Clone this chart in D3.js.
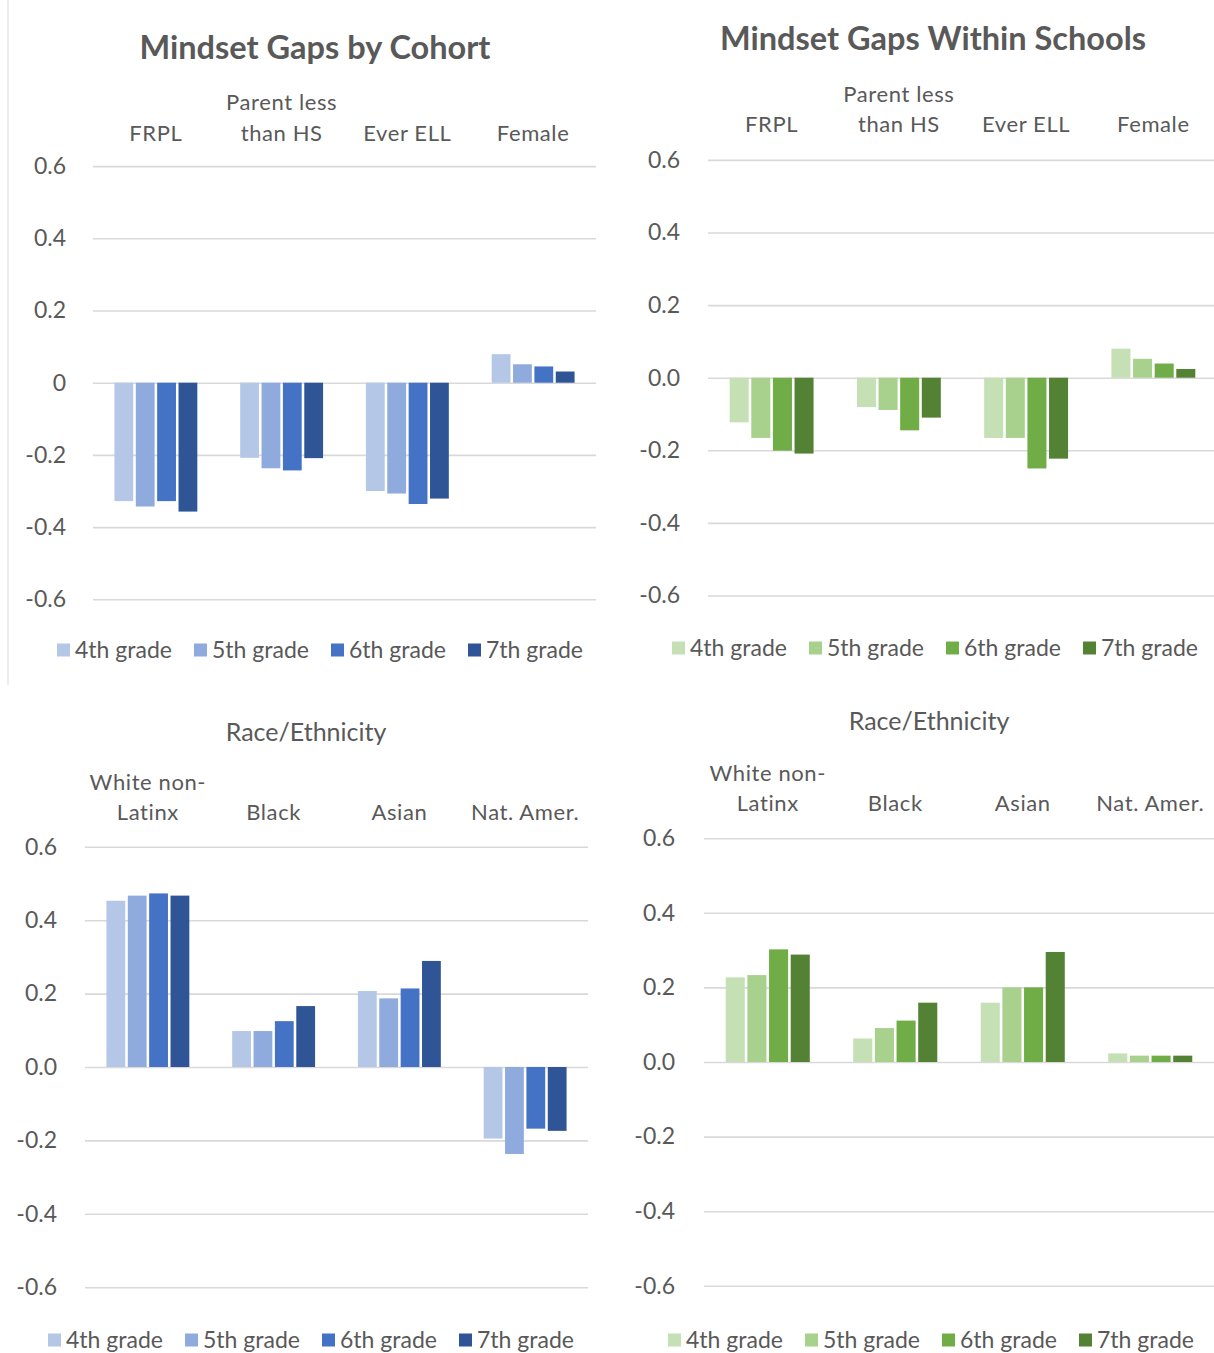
<!DOCTYPE html>
<html>
<head>
<meta charset="utf-8">
<script src="https://cdn.jsdelivr.net/npm/d3@7"></script>
<style>
  body { margin: 0; background: #fff; }
  svg text { font-family: Lato, "Open Sans", sans-serif; fill: #595959; }
</style>
</head>
<body>
<script>
'use strict';

// series / categories
var grades = ['4th grade', '5th grade', '6th grade', '7th grade'];
var groupCats = [['FRPL'], ['Parent less', 'than HS'], ['Ever ELL'], ['Female']];
var raceCats = [['White non-', 'Latinx'], ['Black'], ['Asian'], ['Nat. Amer.']];
var yTicks = [0.6, 0.4, 0.2, 0, -0.2, -0.4, -0.6];

// rows = grade, cols = category
var cohortGaps = [
  [-0.328, -0.208, -0.300, 0.079],
  [-0.343, -0.237, -0.307, 0.051],
  [-0.328, -0.243, -0.336, 0.045],
  [-0.357, -0.209, -0.321, 0.031]
];
var withinGaps = [
  [-0.123, -0.081, -0.166, 0.080],
  [-0.166, -0.089, -0.166, 0.052],
  [-0.201, -0.145, -0.250, 0.039],
  [-0.209, -0.110, -0.223, 0.024]
];
var cohortRace = [
  [0.453, 0.098, 0.207, -0.195],
  [0.467, 0.098, 0.187, -0.237],
  [0.473, 0.125, 0.214, -0.168],
  [0.467, 0.166, 0.289, -0.174]
];
var withinRace = [
  [0.227, 0.063, 0.159, 0.023],
  [0.233, 0.091, 0.200, 0.017],
  [0.302, 0.111, 0.200, 0.017],
  [0.288, 0.159, 0.295, 0.017]
];

var blues = ['#b4c7e7', '#8faadc', '#4472c4', '#2f5597'];
var greens = ['#c5e0b4', '#a9d18e', '#70ad47', '#548235'];

var svg = d3.select('body').append('svg')
  .attr('width', 1214)
  .attr('height', 1353);

// thin frame line on the left of the top-left chart
svg.append('line')
  .attr('x1', 8).attr('x2', 8)
  .attr('y1', 0).attr('y2', 685)
  .attr('stroke', '#d9d9d9')
  .attr('stroke-width', 1);

var panels = [
  {
    values: cohortGaps, cats: groupCats, colors: blues,
    left: 93, right: 596, zeroY: 382.7, unit: 361, tickRight: 66,
    zeroLabel: '0',
    title: 'Mindset Gaps by Cohort', titleX: 315, titleY: 59, titleBold: true,
    catY: [110, 141], legendX: 57, legendY: 650
  },
  {
    values: withinGaps, cats: groupCats, colors: greens,
    left: 708, right: 1217, zeroY: 377.7, unit: 363, tickRight: 680,
    zeroLabel: '0.0',
    title: 'Mindset Gaps Within Schools', titleX: 933, titleY: 50, titleBold: true,
    catY: [102, 132], legendX: 672, legendY: 648
  },
  {
    values: cohortRace, cats: raceCats, colors: blues,
    left: 85, right: 588, zeroY: 1067, unit: 367, tickRight: 57,
    zeroLabel: '0.0',
    title: 'Race/Ethnicity', titleX: 306, titleY: 741, titleBold: false,
    catY: [790, 820], legendX: 48, legendY: 1340
  },
  {
    values: withinRace, cats: raceCats, colors: greens,
    left: 704, right: 1214, zeroY: 1062, unit: 373, tickRight: 675,
    zeroLabel: '0.0',
    title: 'Race/Ethnicity', titleX: 929, titleY: 730, titleBold: false,
    catY: [781, 811], legendX: 668, legendY: 1340
  }
];

var fmt = d3.format('.1f');

function drawPanel(p) {
  var g = svg.append('g');

  var x0 = d3.scaleBand()
    .domain(d3.range(p.cats.length))
    .range([p.left, p.right])
    .paddingInner(0.3)
    .paddingOuter(0.15);

  var x1 = d3.scaleBand()
    .domain(d3.range(grades.length))
    .range([0, x0.bandwidth()])
    .padding(0.12);

  var y = d3.scaleLinear()
    .domain([-0.6, 0.6])
    .range([p.zeroY + 0.6 * p.unit, p.zeroY - 0.6 * p.unit]);

  //gridlines + tick labels through the axis, plain hyphen for negatives
  var axis = d3.axisLeft(y)
    .tickValues(yTicks)
    .tickSize(-(p.right - p.left))
    .tickPadding(p.left - p.tickRight)
    .tickFormat(function(d) {
      return Math.abs(d) < 1e-9 ? p.zeroLabel : fmt(d).replace('\u2212', '-');
    });

  var ax = g.append('g')
    .attr('transform', 'translate(' + p.left + ',0)')
    .call(axis);
  ax.select('.domain').remove();
  ax.selectAll('.tick line')
    .attr('stroke', '#d9d9d9')
    .attr('stroke-width', 1.6);
  ax.selectAll('.tick text')
    .attr('fill', '#595959')
    .style('font-size', '23px')
    .style('font-family', 'Lato, sans-serif');

  // bars
  var groups = g.selectAll('g.grade')
    .data(p.values)
    .enter().append('g')
    .attr('class', 'grade');

  groups.selectAll('rect')
    .data(function(row, gi) {
      return row.map(function(v, ci) { return { v: v, gi: gi, ci: ci }; });
    })
    .enter().append('rect')
    .attr('x', function(d) { return x0(d.ci) + x1(d.gi); })
    .attr('width', x1.bandwidth())
    .attr('y', function(d) { return Math.min(y(d.v), y(0)); })
    .attr('height', function(d) { return Math.abs(y(d.v) - y(0)); })
    .attr('fill', function(d) { return p.colors[d.gi]; });

  // category labels on top
  p.cats.forEach(function(lines, ci) {
    var cx = x0(ci) + x0.bandwidth() / 2;
    lines.forEach(function(line, li) {
      var yy = lines.length === 2 ? p.catY[li] : p.catY[1];
      g.append('text')
        .attr('x', cx)
        .attr('y', yy)
        .attr('text-anchor', 'middle')
        .style('font-size', '22px')
        .style('letter-spacing', '0.6px')
        .text(line);
    });
  });

  // title
  g.append('text')
    .attr('x', p.titleX)
    .attr('y', p.titleY)
    .attr('text-anchor', 'middle')
    .style('font-size', p.titleBold ? '32.5px' : '25px')
    .style('font-weight', p.titleBold ? 'bold' : 'normal')
    .text(p.title);

  // legend
  var leg = g.selectAll('g.legend')
    .data(grades)
    .enter().append('g')
    .attr('class', 'legend')
    .attr('transform', function(d, i) {
      return 'translate(' + (p.legendX + 137 * i) + ',' + p.legendY + ')';
    });

  leg.append('rect')
    .attr('x', 0)
    .attr('y', -6.5)
    .attr('width', 13)
    .attr('height', 13)
    .attr('fill', function(d, i) { return p.colors[i]; });

  leg.append('text')
    .attr('x', 18)
    .attr('y', 8)
    .style('font-size', '23px')
    .text(function(d) { return d; });
}

panels.forEach(drawPanel);
</script>
</body>
</html>
